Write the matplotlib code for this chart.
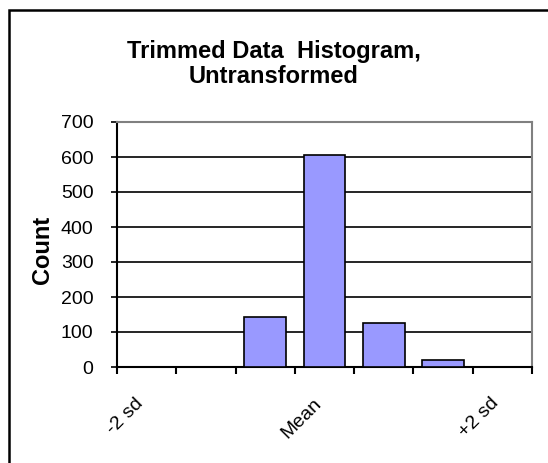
import matplotlib
matplotlib.use("Agg")
import matplotlib.pyplot as plt
from matplotlib.patches import Rectangle

categories = [1, 2, 3, 4, 5, 6, 7]
counts = [0, 0, 143, 606, 127, 19, 0]
tick_labels = ["-2 sd", "", "", "Mean", "", "", "+2 sd"]
title = "Trimmed Data  Histogram,\nUntransformed"
ylabel = "Count"
yticks = [0, 100, 200, 300, 400, 500, 600, 700]

plt.rcParams['font.family'] = ['Liberation Sans', 'DejaVu Sans']

W, H = 548, 463
fig = plt.figure(figsize=(W / 100, H / 100), dpi=100)
ax = fig.add_axes([117 / W, 1 - 367 / H, 415 / W, 245 / H])

ax.bar(categories, counts, width=0.7, color="#9999FF", edgecolor="black", linewidth=1.2, zorder=3)

ax.set_xlim(0.5, 7.5)
ax.set_ylim(0, 700)
ax.set_yticks(yticks)
ax.set_yticklabels([str(v) for v in yticks], fontsize=14)
ax.yaxis.grid(True, color="black", linewidth=1.2, zorder=0)
ax.set_axisbelow(True)

ax.set_xticks(categories)
ax.set_xticklabels(tick_labels, rotation=45, ha="right", va="top", fontsize=14)
ax.set_xticks([c - 0.5 for c in categories] + [7.5], minor=True)
ax.tick_params(axis="x", which="major", length=0, pad=20)
ax.tick_params(axis="x", which="minor", length=5, width=1.5, direction="out", color="black")
ax.tick_params(axis="y", length=4, width=1.2, direction="out", pad=13)

for s in ["left", "bottom"]:
    ax.spines[s].set_color("black")
    ax.spines[s].set_linewidth(1.5)
for s in ["top", "right"]:
    ax.spines[s].set_color("#808080")
    ax.spines[s].set_linewidth(1.5)

ax.set_ylabel(ylabel, fontsize=17, fontweight="bold", va="center")
ax.yaxis.set_label_coords((42 - 117) / 415, (367 - 250) / 245)

fig.text(274 / W, 1 - 64 / H, title, ha="center", va="center", fontsize=17,
         fontweight="bold", linespacing=1.1)

fig.patches.append(Rectangle((8.5 / W, -0.1), 1.2, 1 - 10.5 / H + 0.1, transform=fig.transFigure,
                             fill=False, edgecolor="black", linewidth=1.8))

fig.savefig("out.png", dpi=100)
